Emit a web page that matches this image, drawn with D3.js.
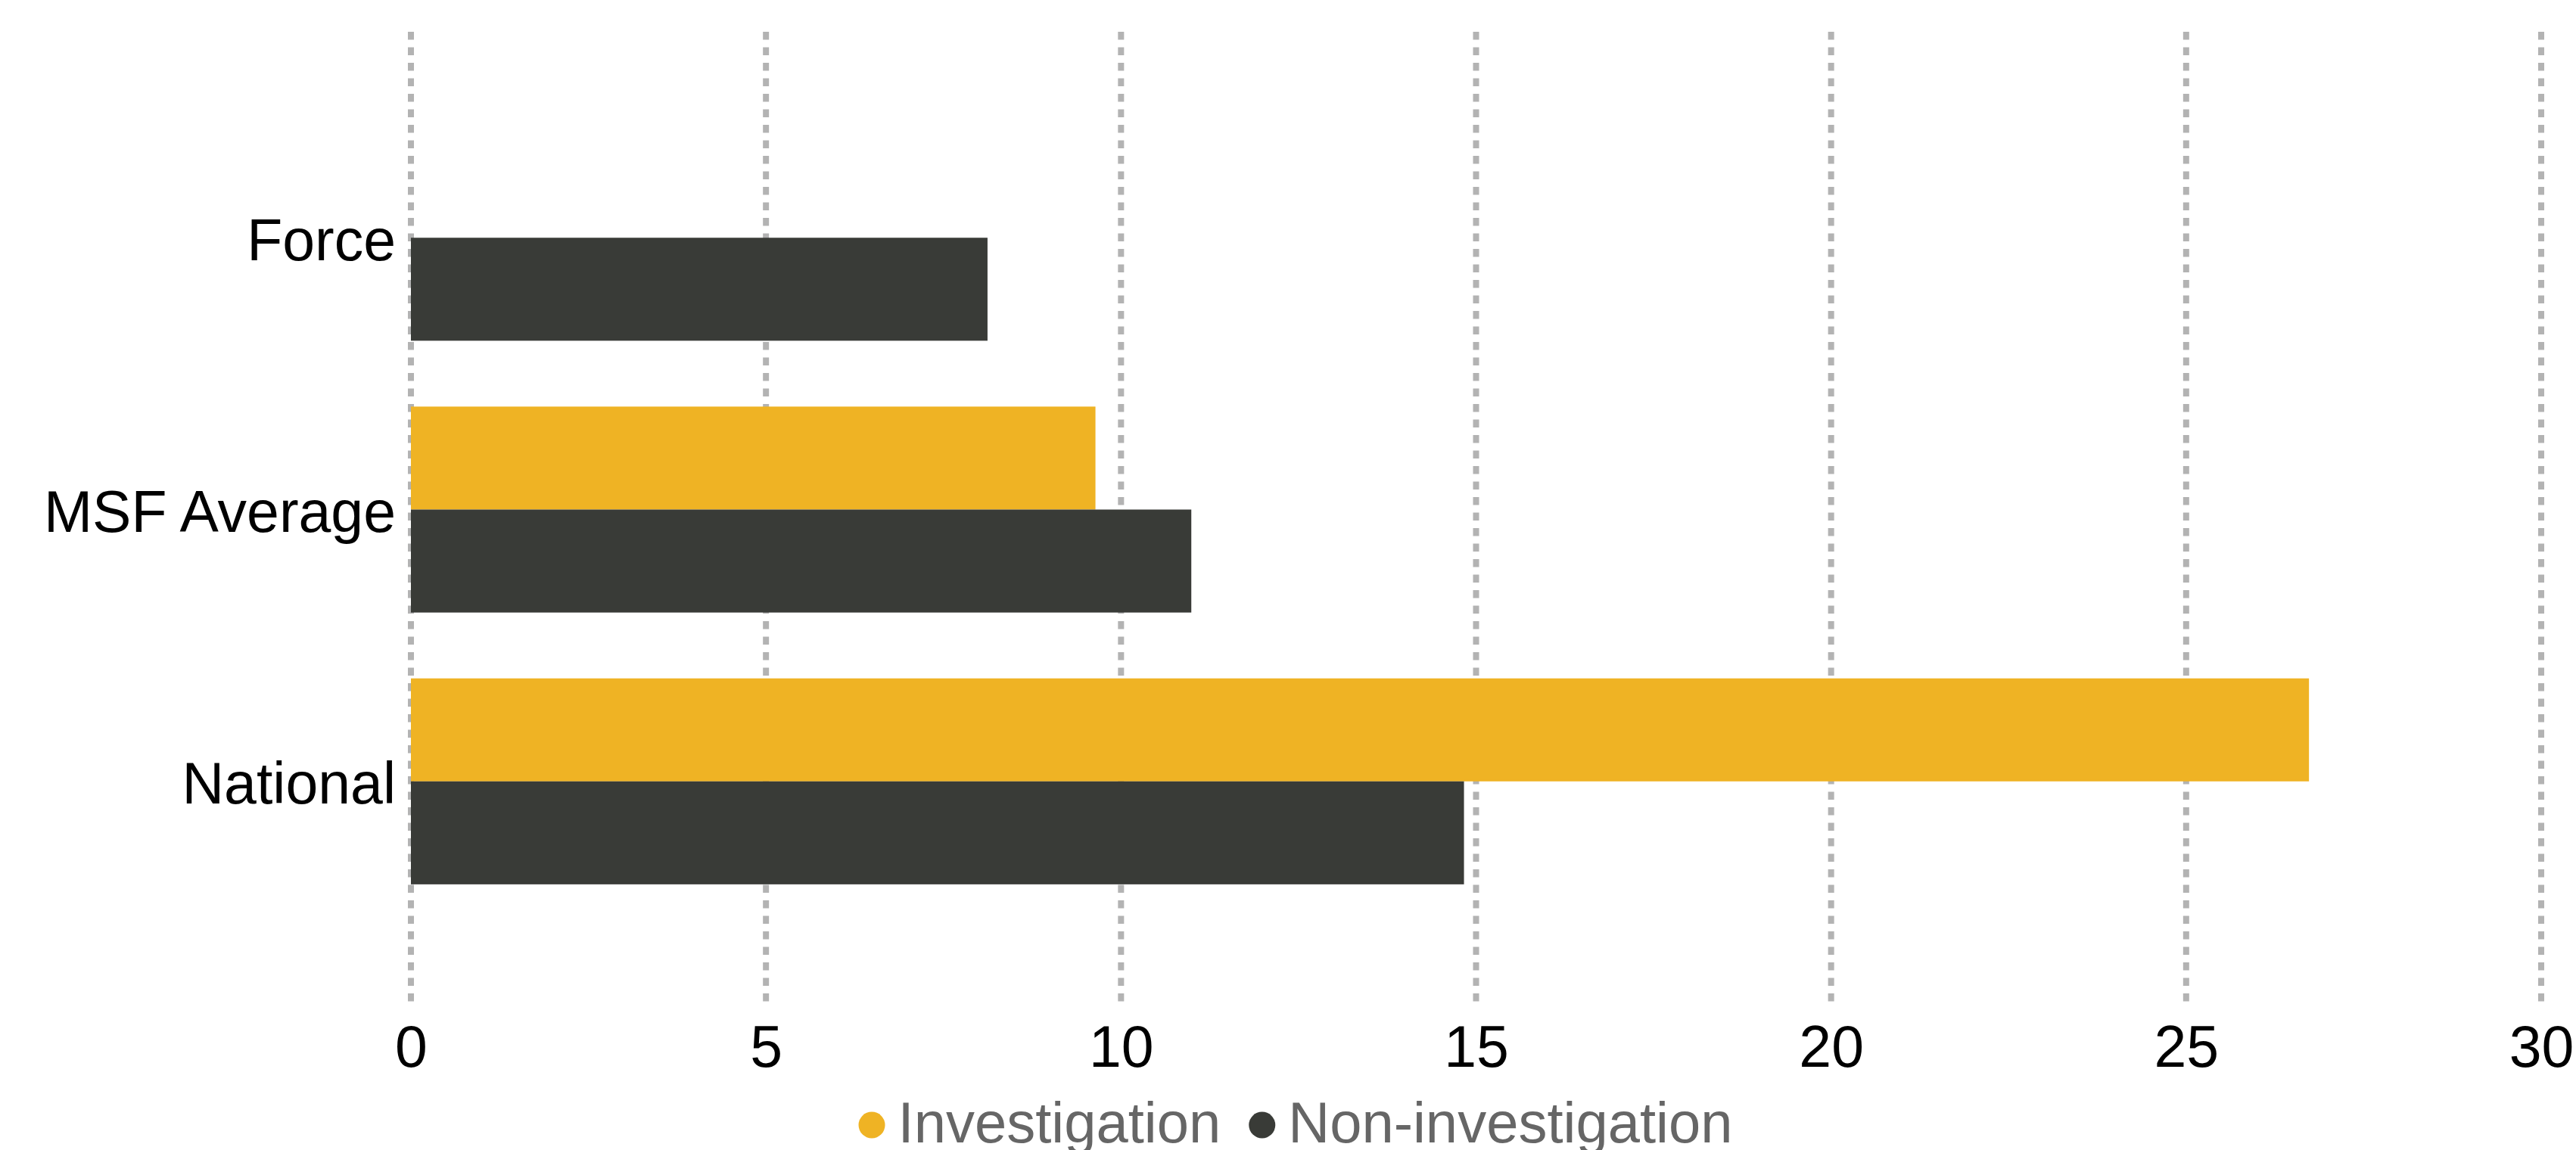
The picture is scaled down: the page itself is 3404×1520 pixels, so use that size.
<!DOCTYPE html>
<html>
<head>
<meta charset="utf-8">
<script src="https://cdn.jsdelivr.net/npm/d3@7"></script>
<style>
  body { margin: 0; background: #fff; }
  text { font-family: "Liberation Sans", Arial, sans-serif; }
</style>
</head>
<body>
<svg id="chart" width="3404" height="1520"></svg>
<script>

const categories = ['Force', 'MSF Average', 'National']
const series = ['Investigation', 'Non-investigation']
const investigation = [null, 9.64, 26.73]
const nonInvestigation = [8.12, 10.99, 14.83]
const xTicks = [0, 5, 10, 15, 20, 25, 30]
const colors = ['#EFB324', '#393B37']

const svg = d3.select('#chart')

const xScale = d3.scaleLinear()
  .domain([0, 30])
  .range([543, 3358])

const yScale = d3.scaleBand()
  .domain(categories)
  .range([52.4, 1294.6])
  .paddingInner(0.2423)
  .paddingOuter(0.35)

const subScale = d3.scaleBand()
  .domain(series)
  .range([0, yScale.bandwidth()])

const color = d3.scaleOrdinal().domain(series).range(colors)

// dashed vertical gridlines
svg.append('g')
  .attr('class', 'grid')
  .selectAll('line')
  .data(xTicks)
  .join('line')
    .attr('x1', d => xScale(d))
    .attr('x2', d => xScale(d))
    .attr('y1', 42)
    .attr('y2', 1328)
    .attr('stroke', '#b3b3b3')
    .attr('stroke-width', 8)
    .attr('stroke-dasharray', '10.5,10')

// bars
const rows = categories.map((c, i) => ({
  category: c,
  values: [
    { key: series[0], value: investigation[i] },
    { key: series[1], value: nonInvestigation[i] }
  ]
}))

svg.append('g')
  .attr('class', 'bars')
  .selectAll('g')
  .data(rows)
  .join('g')
    .attr('transform', d => `translate(0,${ yScale(d.category) })`)
  .selectAll('rect')
  .data(d => d.values.filter(v => v.value != null))
  .join('rect')
    .attr('x', xScale(0))
    .attr('y', d => subScale(d.key))
    .attr('width', d => xScale(d.value) - xScale(0))
    .attr('height', subScale.bandwidth())
    .attr('fill', d => color(d.key))

// x axis labels
const xAxis = svg.append('g')
  .attr('class', 'axis x-axis')
  .attr('transform', 'translate(0,1350)')
  .call(d3.axisBottom(xScale).tickValues(xTicks).tickSize(0).tickPadding(0))

xAxis.select('.domain').remove()
xAxis.selectAll('text')
  .attr('y', 60)
  .attr('dy', 0)
  .attr('fill', '#000')
  .style('font-size', '77px')
  .style('font-family', '"Liberation Sans", Arial, sans-serif')

// y axis labels
const yAxis = svg.append('g')
  .attr('class', 'axis y-axis')
  .attr('transform', 'translate(523,0)')
  .call(d3.axisLeft(yScale).tickSize(0).tickPadding(0))

yAxis.select('.domain').remove()
yAxis.selectAll('text')
  .attr('x', 0)
  .attr('dy', '0.38em')
  .attr('fill', '#000')
  .style('font-size', '77px')
  .style('font-family', '"Liberation Sans", Arial, sans-serif')

// legend
const legend = svg.append('g').attr('class', 'legend')
const items = legend.selectAll('g')
  .data(series)
  .join('g')

items.append('circle')
  .attr('r', 17.5)
  .attr('cx', 17.5)
  .attr('cy', 0)
  .attr('fill', d => color(d))

items.append('text')
  .attr('x', 52)
  .attr('y', 23)
  .attr('fill', '#666')
  .style('font-size', '76px')
  .text(d => d)

let offset = 0
items.each(function() {
  const w = this.getBBox().width
  d3.select(this).attr('transform', `translate(${ offset },1487)`)
  offset += w + 37
})
const total = offset - 37
legend.attr('transform', `translate(${ 1712 - total / 2 },0)`)

</script>
</body>
</html>
